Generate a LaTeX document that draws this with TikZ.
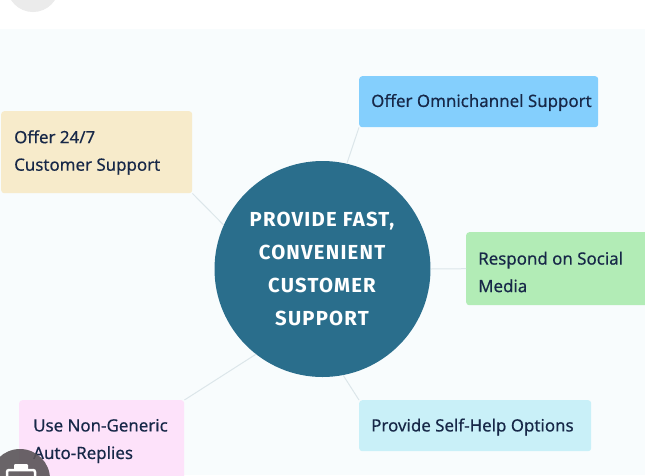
\documentclass[tikz,border=0pt]{standalone}
\usepackage{fontspec}
\setmainfont{Noto Sans}
\newfontfamily\hubfont{Fira Sans}[LetterSpace=6]
\definecolor{pagebg}{HTML}{F8FCFD}
\definecolor{hubblue}{HTML}{2A6E8C}
\definecolor{inktext}{HTML}{172848}
\definecolor{linkgrey}{HTML}{DCE6EA}
\definecolor{omnifill}{RGB}{132,207,253}
\definecolor{alwaysfill}{RGB}{247,235,203}
\definecolor{socialfill}{RGB}{178,236,182}
\definecolor{selffill}{RGB}{201,240,248}
\definecolor{autofill}{RGB}{253,226,250}
\definecolor{badge}{HTML}{5A5458}
\tikzset{x=1pt,y=-1pt,
 cardbox/.style={rounded corners=3pt,anchor=north west,inner sep=0pt,minimum width=#1},
 cardtext/.style={anchor=west,align=left,inner sep=0pt,text=inktext,font=\fontsize{16.9}{27.5}\selectfont\addfontfeature{FakeBold=0.35}},
 link/.style={draw=linkgrey,line width=1pt}}
\begin{document}
\begin{tikzpicture}
\useasboundingbox (0,0) rectangle (645,475);
\clip (0,0) rectangle (645,475);
\fill[white] (0,0) rectangle (645,475);
\fill[pagebg] (0,29) rectangle (645,475);
\fill[black!8] (33,-14) circle (26);
\node[cardbox=239pt,fill=omnifill,minimum height=51pt] (omni) at (359,76) {};
\node[cardtext] (omnit) at (371,102.5) {Offer Omnichannel Support};
\node[cardbox=191pt,fill=alwaysfill,minimum height=82pt] (always) at (1,111) {};
\node[cardtext] (alwayst) at (14,152.5) {Offer 24/7\\Customer Support};
\node[cardbox=185pt,fill=socialfill,minimum height=73pt] (social) at (466,232) {};
\node[cardtext] (socialt) at (478,272) {Respond on Social\\Media};
\node[cardbox=232pt,fill=selffill,minimum height=51pt] (self) at (359,400) {};
\node[cardtext] (selft) at (371,427) {Provide Self-Help Options};
\node[cardbox=165pt,fill=autofill,minimum height=90pt] (auto) at (19,400) {};
\node[cardtext] (autot) at (33,441) {Use Non-Generic\\Auto-Replies};
\node[circle,fill=hubblue,minimum size=216pt,inner sep=0pt] (hub) at (322.5,269) {};
\node[text=white,align=center,font=\hubfont\bfseries\fontsize{20.3}{33.3}\selectfont] (hublabel) at (322,269) {PROVIDE FAST,\\CONVENIENT\\CUSTOMER\\SUPPORT};
\draw[link] (hub.77) -- (omni.south west);
\draw[link] (hub.156) -- (always.south east);
\draw[link] (hub.0) -- (social.west);
\draw[link] (hub.-79) -- (self.north west);
\draw[link] (hub.232) -- (auto.north east);
\fill[badge,opacity=.9] (20,479) circle (30);
\draw[white,line width=2.5pt,rounded corners=2pt] (7,480) -- (7,470) -- (35,470) -- (35,480);
\fill[white,rounded corners=1pt] (14,464) rectangle (28,470);
\end{tikzpicture}
\end{document}
